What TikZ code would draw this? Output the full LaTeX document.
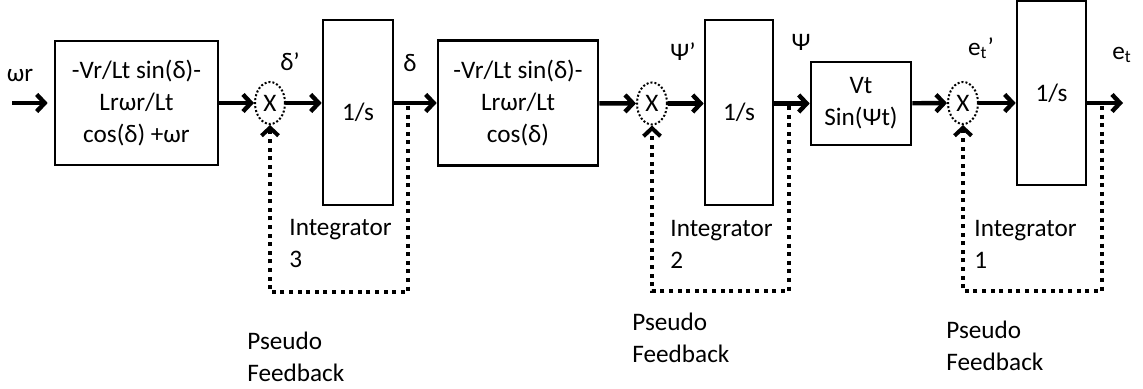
\documentclass[tikz,border=0pt]{standalone}
\usepackage{fontspec}
\setmainfont{Carlito}
\usetikzlibrary{arrows.meta,shapes.geometric}

\begin{document}
\begin{tikzpicture}[x=0.5pt,y=-0.5pt,
  font=\fontsize{12.6}{16}\selectfont,
  block/.style={draw,line width=1.3pt,inner sep=0pt,align=center},
  mult/.style={ellipse,draw,line width=1pt,dash pattern=on 1pt off 1pt,
    minimum width=15pt,minimum height=21pt,inner sep=0pt},
  sig/.style={line width=2.2pt,-{Straight Barb[length=4pt,width=8.5pt]}},
  fb/.style={line width=2pt,dash pattern=on 2pt off 2.3pt,
    -{Straight Barb[length=4pt,width=8.5pt]}},
  txt/.style={inner sep=0pt,align=left}]
  \useasboundingbox (0,0) rectangle (1143,389);
  % Integrator 3 stage
  \node[block,minimum width=81.5pt,minimum height=62pt] (f3) at (136.5,103)
    {-Vr/Lt sin(δ)-\\Lrωr/Lt\\cos(δ) +ωr};
  \node[mult] (c3) at (270,103) {X};
  \node[block,minimum width=35pt,minimum height=92.5pt] (i3) at (358,112.5) {1/s};
  % Integrator 2 stage
  \node[block,minimum width=80pt,minimum height=62.5pt] (f2) at (518,103)
    {-Vr/Lt sin(δ)-\\Lrωr/Lt\\cos(δ)};
  \node[mult] (c2) at (652,103.5) {X};
  \node[block,minimum width=34pt,minimum height=92.5pt] (i2) at (739,112.5) {1/s};
  % Integrator 1 stage
  \node[block,minimum width=50pt,minimum height=41.5pt] (f1) at (861,103.5)
    {Vt\\Sin(Ψt)};
  \node[mult] (c1) at (963,103) {X};
  \node[block,minimum width=34.5pt,minimum height=92pt] (i1) at (1051.5,93) {1/s};

  % signal labels
  \node[txt] (wr) at (20,75) {ωr};
  \node[txt] (dd3) at (290,62) {δ’};
  \node[txt] (d3) at (410,63) {δ};
  \node[txt] (pp2) at (683,52) {Ψ’};
  \node[txt] (p2) at (801,42) {Ψ};
  \node[txt] (ee1) at (981,48) {e\textsubscript{t}’};
  \node[txt] (e1) at (1122,55) {e\textsubscript{t}};

  % forward path
  \coordinate (in) at (12,103);
  \coordinate (out) at (1123,103);
  \draw[sig,shorten >=3pt] (in) -- (f3);
  \draw[sig] (f3) -- (c3);
  \draw[sig] (c3) -- (i3.west |- c3);
  \draw[sig] (i3.east |- c3) -- (f2);
  \draw[sig] (f2) -- (c2);
  \draw[sig] (c2) -- (i2.west |- c2);
  \draw[sig] (i2.east |- c2) -- (f1);
  \draw[sig] (f1) -- (c1);
  \draw[sig] (c1) -- (i1.west |- c1);
  \draw[sig] (i1.east |- c1) -- (out);

  % pseudo feedback loops
  \coordinate (fb3) at (408,106);
  \coordinate (fb2) at (789,106);
  \coordinate (fb1) at (1102,106);
  \draw[fb] (fb3) -- ++(0,186) -| (c3.south);
  \draw[fb] (fb2) -- ++(0,185) -| (c2.south);
  \draw[fb] (fb1) -- ++(0,185) -| (c1.south);

  % integrator names
  \node[txt,anchor=west] (n3) at (289,244) {Integrator\\3};
  \node[txt,anchor=west] (n2) at (670,244) {Integrator\\2};
  \node[txt,anchor=west] (n1) at (974,244) {Integrator\\1};
  \node[txt,anchor=west] (q3) at (247,357) {Pseudo\\Feedback};
  \node[txt,anchor=west] (q2) at (632,338) {Pseudo\\Feedback};
  \node[txt,anchor=west] (q1) at (946,346) {Pseudo\\Feedback};
\end{tikzpicture}
\end{document}
